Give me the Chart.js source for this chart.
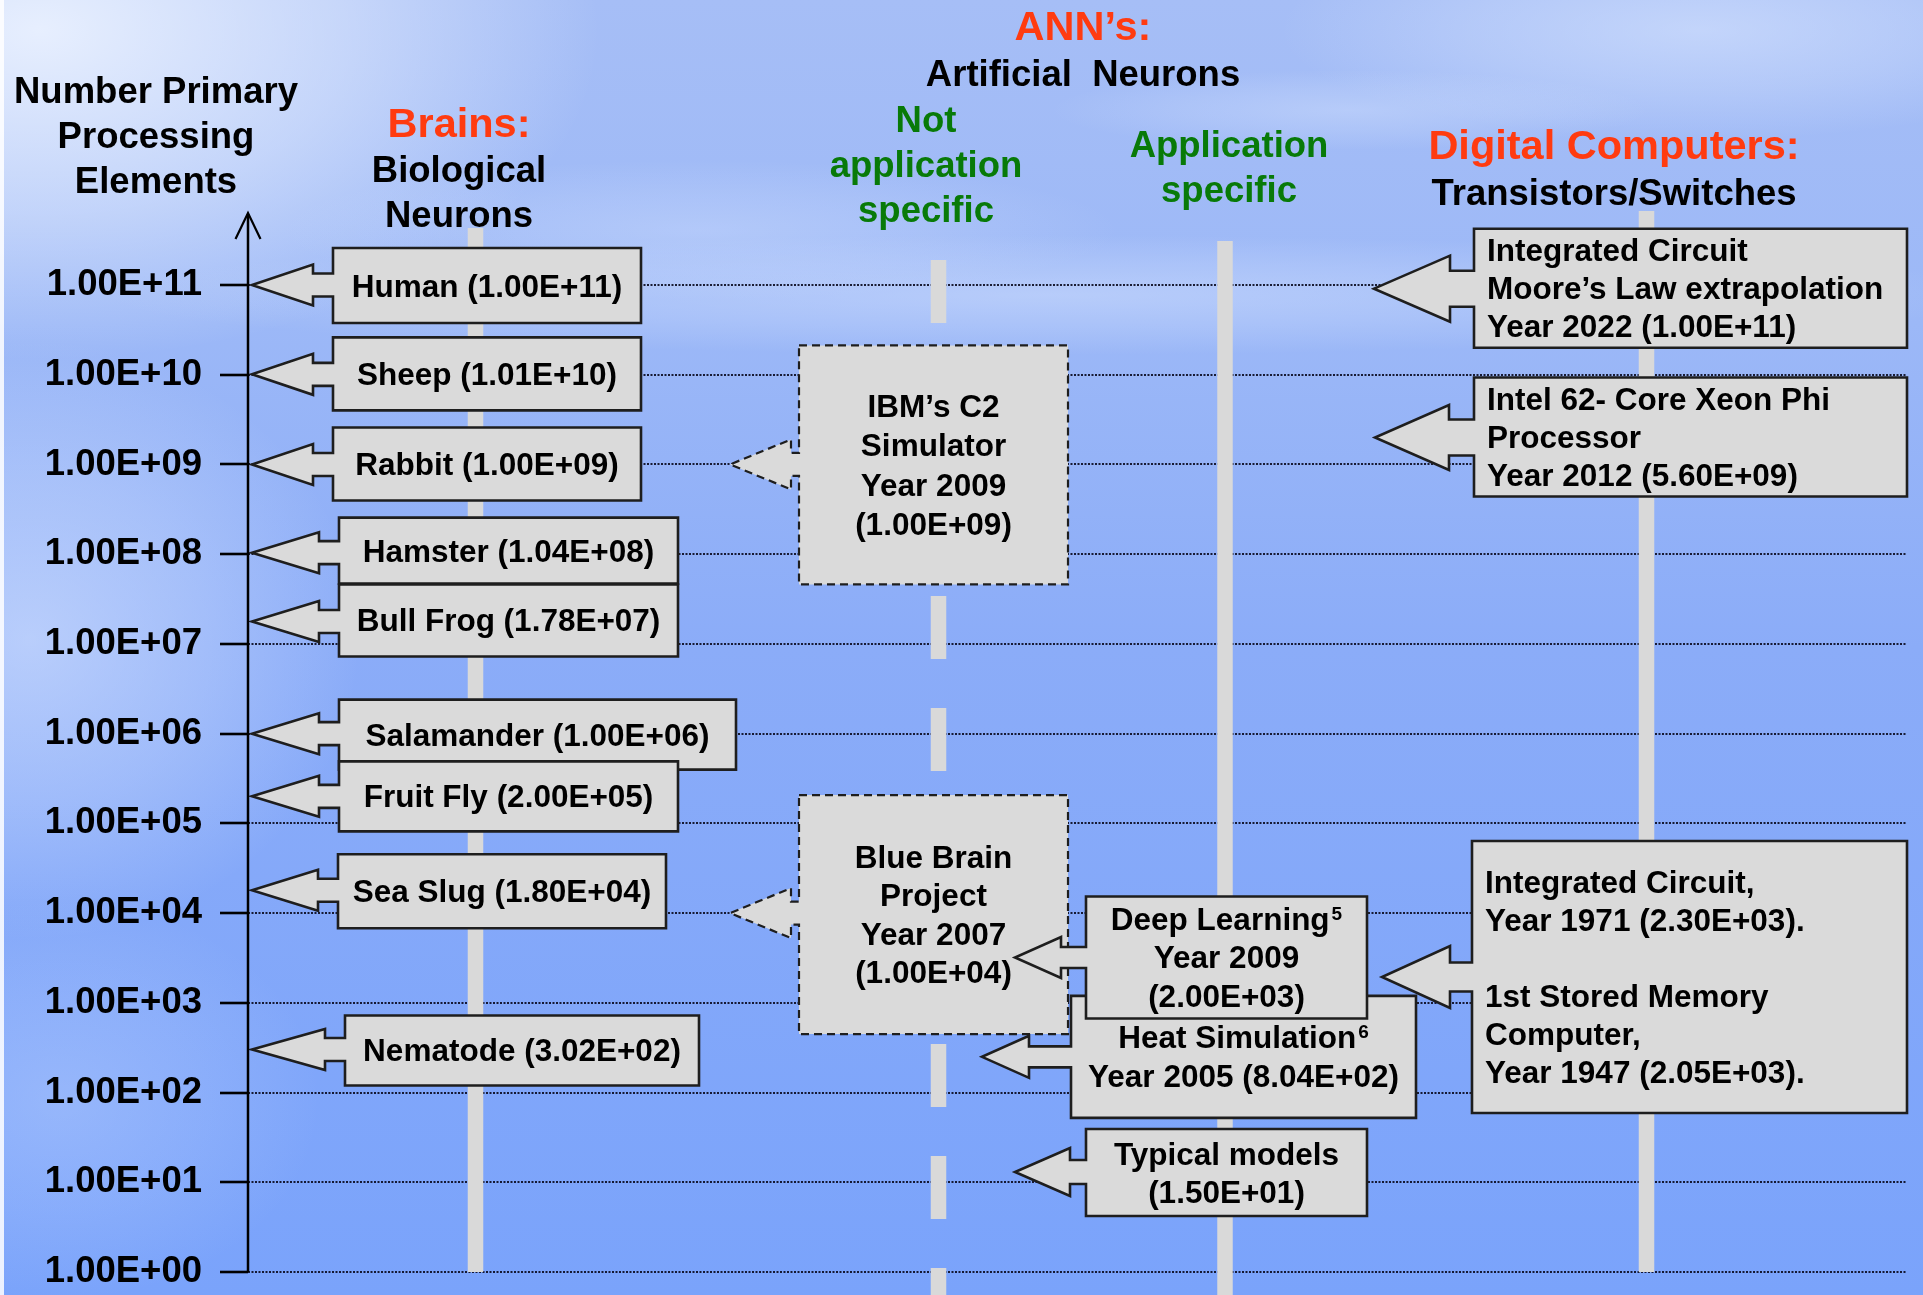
<!DOCTYPE html>
<html>
  <head>
    <meta charset="utf-8">
    <script src="https://cdn.jsdelivr.net/npm/chart.js@4.4.0/dist/chart.umd.min.js"></script>
    <style>
      html, body { margin: 0; padding: 0; overflow: hidden; background: #86a9f7; }
      .chart-container { width: 1923px; height: 1295px; }
    </style>
  </head>
  <body>
    <div class="chart-container">
      <canvas id="myChart" width="1923" height="1295"></canvas>
    </div>
    <script>
      // ---- data ----
      var tickValues = [1e0, 1e1, 1e2, 1e3, 1e4, 1e5, 1e6, 1e7, 1e8, 1e9, 1e10, 1e11];

      // Brains: biological neurons
      var brainNames = ["Human", "Sheep", "Rabbit", "Hamster", "Bull Frog", "Salamander", "Fruit Fly", "Sea Slug", "Nematode"];
      var brainValues = [1.00e11, 1.01e10, 1.00e9, 1.04e8, 1.78e7, 1.00e6, 2.00e5, 1.80e4, 3.02e2];

      // ANNs: artificial neurons
      var annNames = ["IBM\u2019s C2\nSimulator", "Blue Brain\nProject", "Deep Learning", "Heat Simulation", "Typical models"];
      var annNotes = ["", "", "5", "6", ""];
      var annYears = [2009, 2007, 2009, 2005, null];
      var annValues = [1.00e9, 1.00e4, 2.00e3, 8.04e2, 1.50e1];
      // where each arrow actually lands in the figure
      var annPointsTo = [1.00e9, 1.00e4, 3.2e3, 2.5e2, 1.3e1];

      // Digital computers: transistors / switches
      var computerNames = ["Integrated Circuit\nMoore\u2019s Law extrapolation", "Intel 62- Core Xeon Phi\nProcessor", "Integrated Circuit,", "1st Stored Memory\nComputer,"];
      var computerYears = [2022, 2012, 1971, 1947];
      var computerValues = [1.00e11, 5.60e9, 2.30e3, 2.05e3];
      var computerPointsTo = [9.1e10, 2.0e9, 1.94e3];

      // ---- layout (canvas units) ----
      var FONT = '"Liberation Sans", Arial, sans-serif';
      var BOX_FILL = "#dadada";
      var BOX_LINE = "#1e1e1e";

      var brainLayout = {
        tipX: 252, head: 20.5, stem: 11.5,
        boxL: [333, 333, 333, 339, 339, 339, 339, 338, 345],
        boxR: [641, 641, 641, 678, 678, 736, 678, 666, 699],
        up:   [37, 37, 37, 35, 37, 34, 35, 36, 34],
        down: [38, 36, 36, 31, 35, 36, 35, 38, 36]
      };

      var annLayout = [
        { tipX: 730, boxL: 799, boxR: 1068, up: 119, down: 120, headX: 791, head: 25, stem: 11.5, dashed: true, lineH: 39.5, yearOwnLine: true, layer: 0 },
        { tipX: 730, boxL: 799, boxR: 1068, up: 118, down: 121, headX: 791, head: 25, stem: 11.5, dashed: true, lineH: 38.5, yearOwnLine: true, layer: 0 },
        { tipX: 1015, boxL: 1086, boxR: 1367, up: 61, down: 61, headX: 1061, head: 20.5, stem: 10.5, lineH: 38.5, yearOwnLine: true, layer: 2 },
        { tipX: 982, boxL: 1071, boxR: 1416, up: 61, down: 61, headX: 1029, head: 21, stem: 10.5, lineH: 39, yearOwnLine: false, layer: 1 },
        { tipX: 1015, boxL: 1086, boxR: 1367, up: 43, down: 44, headX: 1070, head: 24, stem: 12, lineH: 38, yearOwnLine: true, layer: 2 }
      ];

      var computerLayout = [
        { entries: [0], tipX: 1374, boxL: 1474, boxR: 1907, up: 60, down: 59, headX: 1450, head: 33, stem: 18, lineH: 38 },
        { entries: [1], tipX: 1375, boxL: 1474, boxR: 1907, up: 60, down: 59, headX: 1449, head: 32.5, stem: 18, lineH: 38 },
        { entries: [2, 3], tipX: 1382, boxL: 1472, boxR: 1907, up: 136, down: 136, headX: 1450, head: 31, stem: 14.5, lineH: 38 }
      ];

      var bands = [
        { x: 475.5, top: 228, toBottom: false },
        { x: 938.5, top: 260, toBottom: true, dashed: true },
        { x: 1225, top: 241, toBottom: true },
        { x: 1646.5, top: 211, toBottom: false }
      ];

      var RED = "#ff3b10", GREEN = "#087a08", BLACK = "#000";
      var headers = [
        { text: "Number Primary", x: 156, y: 103, size: 36.5, color: BLACK },
        { text: "Processing", x: 156, y: 148, size: 36.5, color: BLACK },
        { text: "Elements", x: 156, y: 193, size: 36.5, color: BLACK },
        { text: "Brains:", x: 459, y: 137, size: 41.5, color: RED },
        { text: "Biological", x: 459, y: 182, size: 36.5, color: BLACK },
        { text: "Neurons", x: 459, y: 227, size: 36.5, color: BLACK },
        { text: "ANN\u2019s:", x: 1083, y: 40, size: 41.5, color: RED },
        { text: "Artificial  Neurons", x: 1083, y: 86, size: 36.5, color: BLACK },
        { text: "Not", x: 926, y: 132, size: 36.5, color: GREEN },
        { text: "application", x: 926, y: 177, size: 36.5, color: GREEN },
        { text: "specific", x: 926, y: 222, size: 36.5, color: GREEN },
        { text: "Application", x: 1229, y: 157, size: 36.5, color: GREEN },
        { text: "specific", x: 1229, y: 202, size: 36.5, color: GREEN },
        { text: "Digital Computers:", x: 1614, y: 159, size: 41.5, color: RED },
        { text: "Transistors/Switches", x: 1614, y: 205, size: 36.5, color: BLACK }
      ];

      // 1.00E+11 style labels
      function sci(v) {
        var e = Math.floor(Math.log10(v) + 1e-9);
        var m = v / Math.pow(10, e);
        var ex = String(Math.abs(e));
        if (ex.length < 2) ex = "0" + ex;
        return m.toFixed(2) + "E" + (e < 0 ? "-" : "+") + ex;
      }

      // ---- drawing helpers ----
      function glow(ctx, cx, cy, rx, ry, rgb, a) {
        ctx.save();
        ctx.translate(cx, cy);
        ctx.scale(rx, ry);
        var g = ctx.createRadialGradient(0, 0, 0, 0, 0, 1);
        g.addColorStop(0, "rgba(" + rgb + "," + a + ")");
        g.addColorStop(0.55, "rgba(" + rgb + "," + (a * 0.5) + ")");
        g.addColorStop(1, "rgba(" + rgb + ",0)");
        ctx.fillStyle = g;
        ctx.beginPath();
        ctx.arc(0, 0, 1, 0, Math.PI * 2);
        ctx.fill();
        ctx.restore();
      }

      function paintBackground(ctx, w, h) {
        var g = ctx.createLinearGradient(0, 0, 0, h);
        g.addColorStop(0, "#a6bef6");
        g.addColorStop(0.25, "#9cb8f7");
        g.addColorStop(0.5, "#8bacf8");
        g.addColorStop(1, "#7aa3fb");
        ctx.fillStyle = g;
        ctx.fillRect(0, 0, w, h);
        glow(ctx, 40, 30, 560, 330, "238,244,255", 0.9);
        glow(ctx, 30, 640, 330, 300, "222,233,255", 0.55);
        glow(ctx, 60, 1100, 260, 200, "205,222,255", 0.3);
        glow(ctx, 1050, 295, 950, 60, "215,228,255", 0.45);
        glow(ctx, 700, 230, 420, 70, "215,228,255", 0.35);
        glow(ctx, 1700, 30, 420, 110, "220,232,255", 0.55);
        glow(ctx, 1350, 110, 300, 40, "220,232,255", 0.35);
        ctx.fillStyle = "rgba(255,255,255,0.85)";
        ctx.fillRect(0, 0, 4, h);
      }

      function calloutPath(ctx, tipX, tipY, L, R, H, top, bottom, head, stem) {
        ctx.beginPath();
        ctx.moveTo(L, top);
        ctx.lineTo(R, top);
        ctx.lineTo(R, bottom);
        ctx.lineTo(L, bottom);
        ctx.lineTo(L, tipY + stem);
        ctx.lineTo(H, tipY + stem);
        ctx.lineTo(H, tipY + head);
        ctx.lineTo(tipX, tipY);
        ctx.lineTo(H, tipY - head);
        ctx.lineTo(H, tipY - stem);
        ctx.lineTo(L, tipY - stem);
        ctx.closePath();
      }

      // lines: array of {text, sup}
      function drawCallout(ctx, xs, pt, c, lines, align) {
        var L = xs.getPixelForValue(c.boxL), R = xs.getPixelForValue(c.boxR);
        var H = xs.getPixelForValue(c.headX);
        var top = pt.y - c.up, bottom = pt.y + c.down;
        ctx.save();
        calloutPath(ctx, pt.x, pt.y, L, R, H, top, bottom, c.head, c.stem);
        ctx.fillStyle = BOX_FILL;
        ctx.fill();
        ctx.lineJoin = "miter";
        ctx.strokeStyle = BOX_LINE;
        if (c.dashed) {
          ctx.lineWidth = 2.2;
          ctx.setLineDash([8, 5]);
        } else {
          ctx.lineWidth = 2.6;
        }
        ctx.stroke();
        ctx.setLineDash([]);

        var lh = c.lineH || 38;
        var cy = (top + bottom) / 2;
        var y0 = cy - (lines.length - 1) * lh / 2 + 11;
        ctx.fillStyle = "#000";
        ctx.textBaseline = "alphabetic";
        lines.forEach(function (ln, i) {
          var y = y0 + i * lh;
          ctx.font = "bold 31.5px " + FONT;
          var w = ctx.measureText(ln.text).width;
          var sw = 0;
          if (ln.sup) {
            ctx.font = "bold 19px " + FONT;
            sw = ctx.measureText(ln.sup).width + 2;
          }
          var x = align === "left" ? L + 13 : (L + R) / 2 - (w + sw) / 2;
          ctx.font = "bold 31.5px " + FONT;
          ctx.textAlign = "left";
          ctx.fillText(ln.text, x, y);
          if (ln.sup) {
            ctx.font = "bold 19px " + FONT;
            ctx.fillText(ln.sup, x + w + 2, y - 10);
          }
        });
        ctx.restore();
      }

      function annLines(i) {
        var out = annNames[i].split("\n").map(function (t) { return { text: t }; });
        out[0].sup = annNotes[i];
        var val = "(" + sci(annValues[i]) + ")";
        if (annYears[i] && annLayout[i].yearOwnLine) {
          out.push({ text: "Year " + annYears[i] });
          out.push({ text: val });
        } else if (annYears[i]) {
          out.push({ text: "Year " + annYears[i] + " " + val });
        } else {
          out.push({ text: val });
        }
        return out;
      }

      function computerLines(c) {
        var out = [];
        var many = c.entries.length > 1;
        c.entries.forEach(function (k, n) {
          if (n > 0) out.push({ text: "" });
          computerNames[k].split("\n").forEach(function (t) { out.push({ text: t }); });
          out.push({ text: "Year " + computerYears[k] + " (" + sci(computerValues[k]) + ")" + (many ? "." : "") });
        });
        return out;
      }

      // ---- plugins ----
      var backdropPlugin = {
        id: "backdrop",
        beforeDraw: function (chart) {
          paintBackground(chart.ctx, chart.width, chart.height);
        }
      };

      var bandsPlugin = {
        id: "bands",
        beforeDatasetsDraw: function (chart) {
          var ctx = chart.ctx, xs = chart.scales.x, ys = chart.scales.y;
          ctx.save();
          ctx.strokeStyle = "#d9d9d9";
          ctx.lineWidth = 15.5;
          bands.forEach(function (b) {
            var x = xs.getPixelForValue(b.x);
            ctx.setLineDash(b.dashed ? [63, 49] : []);
            ctx.beginPath();
            ctx.moveTo(x, b.top);
            ctx.lineTo(x, b.toBottom ? chart.height : ys.bottom);
            ctx.stroke();
          });
          ctx.restore();
        }
      };

      var calloutPlugin = {
        id: "callouts",
        afterDatasetsDraw: function (chart) {
          var ctx = chart.ctx, xs = chart.scales.x;

          // brains
          var brainPts = chart.getDatasetMeta(0).data;
          brainNames.forEach(function (name, i) {
            var c = {
              boxL: brainLayout.boxL[i], boxR: brainLayout.boxR[i],
              headX: brainLayout.boxL[i] - 20,
              up: brainLayout.up[i], down: brainLayout.down[i],
              head: brainLayout.head, stem: brainLayout.stem
            };
            drawCallout(ctx, xs, brainPts[i], c, [{ text: name + " (" + sci(brainValues[i]) + ")" }], "center");
          });

          // ANNs, back to front
          var annPts = chart.getDatasetMeta(1).data;
          var order = annLayout.map(function (c, i) { return i; });
          order.sort(function (a, b) { return annLayout[a].layer - annLayout[b].layer; });
          order.forEach(function (i) {
            drawCallout(ctx, xs, annPts[i], annLayout[i], annLines(i), "center");
          });

          // digital computers
          var compPts = chart.getDatasetMeta(2).data;
          computerLayout.forEach(function (c, i) {
            drawCallout(ctx, xs, compPts[i], c, computerLines(c), "left");
          });
        }
      };

      var headerPlugin = {
        id: "headers",
        afterDraw: function (chart) {
          var ctx = chart.ctx, ys = chart.scales.y;
          var ax = chart.chartArea.left;
          ctx.save();
          // vertical axis with arrow
          ctx.strokeStyle = "#000";
          ctx.lineWidth = 2.5;
          ctx.beginPath();
          ctx.moveTo(ax, ys.bottom);
          ctx.lineTo(ax, 214);
          ctx.stroke();
          ctx.lineWidth = 2.2;
          ctx.beginPath();
          ctx.moveTo(ax - 12.5, 239);
          ctx.lineTo(ax, 213);
          ctx.lineTo(ax + 12.5, 239);
          ctx.stroke();

          ctx.textAlign = "center";
          ctx.textBaseline = "alphabetic";
          headers.forEach(function (h) {
            ctx.font = "bold " + h.size + "px " + FONT;
            ctx.fillStyle = h.color;
            ctx.fillText(h.text, h.x, h.y);
          });
          ctx.restore();
        }
      };

      // ---- chart ----
      var ctx = document.getElementById("myChart").getContext("2d");
      var chart = new Chart(ctx, {
        type: "scatter",
        data: {
          datasets: [
            {
              label: "Brains",
              data: brainValues.map(function (v) { return { x: brainLayout.tipX, y: v }; }),
              pointRadius: 0
            },
            {
              label: "ANNs",
              data: annPointsTo.map(function (v, i) { return { x: annLayout[i].tipX, y: v }; }),
              pointRadius: 0
            },
            {
              label: "Digital Computers",
              data: computerPointsTo.map(function (v, i) { return { x: computerLayout[i].tipX, y: v }; }),
              pointRadius: 0
            }
          ]
        },
        options: {
          responsive: false,
          devicePixelRatio: 1,
          animation: false,
          events: [],
          layout: { padding: { top: 285, bottom: 23, left: 0, right: 16 } },
          plugins: { legend: { display: false }, tooltip: { enabled: false } },
          scales: {
            x: { type: "linear", min: 248, max: 1907, display: false },
            y: {
              type: "logarithmic",
              position: "left",
              min: 1,
              max: 1e11,
              afterBuildTicks: function (axis) {
                axis.ticks = tickValues.map(function (v) { return { value: v }; });
              },
              afterFit: function (scale) {
                scale.width = 248;
                // let the layout padding alone decide the plot's top and bottom
                scale.paddingTop = 0;
                scale.paddingBottom = 0;
              },
              ticks: {
                color: "#000",
                padding: 18,
                font: { family: FONT, size: 36.5, weight: "bold" },
                callback: function (v) { return sci(v); }
              },
              grid: {
                color: "rgba(10,10,30,0.9)",
                lineWidth: 2,
                borderDash: [2, 1.5],
                drawTicks: true,
                tickLength: 28,
                tickColor: "#000",
                tickWidth: 2.6,
                tickBorderDash: []
              },
              border: { display: false, dash: [2, 1.5] }
            }
          }
        },
        plugins: [backdropPlugin, bandsPlugin, calloutPlugin, headerPlugin]
      });
    </script>
  </body>
</html>
